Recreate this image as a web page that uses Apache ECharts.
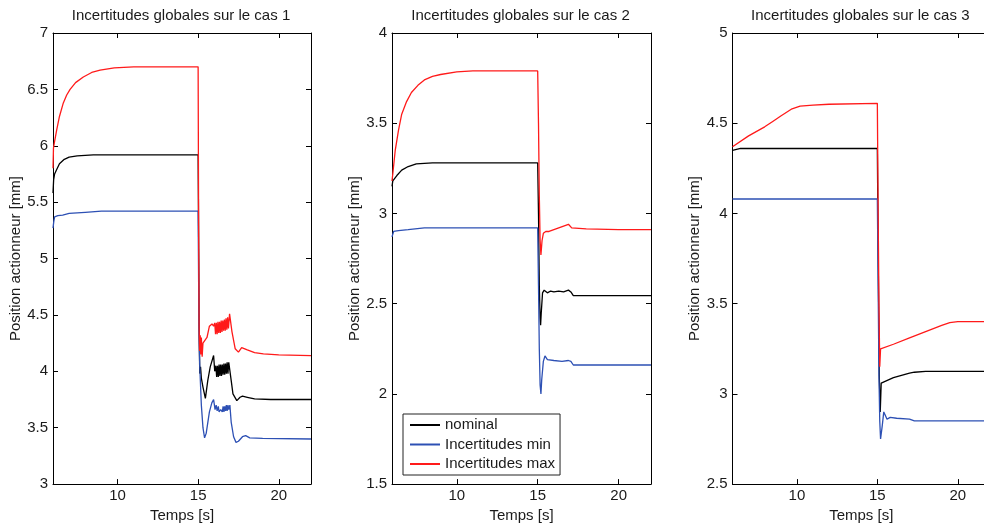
<!DOCTYPE html>
<html>
<head>
<meta charset="utf-8">
<script src="https://cdn.jsdelivr.net/npm/echarts@6/dist/echarts.min.js"></script>
<style>
html,body{margin:0;padding:0;overflow:hidden;background:#fff;}
#chart{width:1000px;height:528px;}
</style>
</head>
<body>
<div id="chart"></div>
<script>
// ---- Data (time [s], position [mm]) ----
const seriesNames = ['nominal', 'Incertitudes min', 'Incertitudes max'];
const titles = ['Incertitudes globales sur le cas 1', 'Incertitudes globales sur le cas 2', 'Incertitudes globales sur le cas 3'];
const xTicks = [10, 15, 20];
const yRanges = [[3, 7], [1.5, 4], [2.5, 5]];

// Case 1
const case1Nominal = [[6,5.58],[6.04,5.70],[6.1,5.75],[6.2,5.78],[6.4,5.84],[6.7,5.88],[7,5.90],[7.5,5.91],[8.5,5.92],[15.0,5.92],[15.03,5.2],[15.06,4.4],[15.1,3.98],[15.15,4.04],[15.2,3.94],[15.3,3.86],[15.45,3.76],[15.6,3.92],[15.75,4.04],[15.85,4.05],[15.96,4.14],[16.03,4.00],[16.1,4.05],[16.15,3.95],[16.2,4.05],[16.25,3.95],[16.3,4.06],[16.35,3.96],[16.4,4.06],[16.45,3.96],[16.5,4.06],[16.55,3.97],[16.6,4.07],[16.65,3.97],[16.7,4.07],[16.75,3.98],[16.8,4.08],[16.85,3.98],[16.9,4.08],[16.95,4.08],[17.05,3.92],[17.16,3.80],[17.4,3.74],[17.6,3.77],[17.75,3.78],[18.05,3.77],[18.5,3.755],[19.5,3.75],[22,3.75]];
const case1Min = [[6,5.27],[6.05,5.33],[6.1,5.37],[6.3,5.38],[6.6,5.385],[7,5.40],[8,5.41],[9,5.42],[15.0,5.42],[15.03,4.8],[15.06,4.3],[15.1,4.05],[15.2,3.7],[15.3,3.5],[15.4,3.41],[15.5,3.45],[15.7,3.64],[15.85,3.72],[15.96,3.75],[16.05,3.66],[16.12,3.70],[16.18,3.65],[16.25,3.69],[16.3,3.64],[16.4,3.66],[16.5,3.64],[16.55,3.69],[16.6,3.64],[16.65,3.69],[16.7,3.65],[16.75,3.70],[16.8,3.65],[16.85,3.70],[16.9,3.66],[16.97,3.70],[17.05,3.55],[17.2,3.42],[17.35,3.37],[17.5,3.38],[17.75,3.42],[17.95,3.43],[18.2,3.41],[19,3.405],[22,3.40]];
const case1Max = [[6,5.80],[6.03,5.98],[6.1,6.04],[6.23,6.14],[6.4,6.26],[6.64,6.38],[6.85,6.45],[7.06,6.50],[7.4,6.56],[7.88,6.61],[8.4,6.65],[8.92,6.67],[9.8,6.69],[11,6.70],[15.0,6.70],[15.03,5.3],[15.06,4.4],[15.09,4.18],[15.13,4.32],[15.16,4.15],[15.2,4.30],[15.25,4.13],[15.3,4.25],[15.4,4.24],[15.55,4.30],[15.7,4.40],[15.86,4.42],[15.96,4.40],[16.03,4.43],[16.08,4.33],[16.13,4.43],[16.18,4.33],[16.23,4.44],[16.28,4.34],[16.33,4.44],[16.38,4.34],[16.43,4.45],[16.48,4.35],[16.53,4.45],[16.58,4.36],[16.63,4.46],[16.68,4.36],[16.73,4.47],[16.78,4.37],[16.83,4.48],[16.88,4.38],[16.95,4.51],[17.1,4.35],[17.3,4.20],[17.5,4.17],[17.7,4.21],[18.05,4.19],[18.5,4.165],[19.05,4.155],[20,4.145],[22,4.14]];

// Case 2
const case2Nominal = [[6,3.15],[6.05,3.18],[6.3,3.21],[6.6,3.24],[7.0,3.26],[7.5,3.275],[8.5,3.28],[15.0,3.28],[15.05,3.0],[15.1,2.6],[15.15,2.42],[15.18,2.38],[15.22,2.45],[15.3,2.56],[15.4,2.575],[15.6,2.56],[15.8,2.57],[16.0,2.565],[16.3,2.57],[16.6,2.565],[16.9,2.575],[17.05,2.565],[17.2,2.545],[18,2.545],[22,2.545]];
const case2Min = [[6,2.87],[6.1,2.90],[6.2,2.89],[6.4,2.905],[7,2.91],[8,2.92],[15.0,2.92],[15.05,2.6],[15.1,2.25],[15.15,2.05],[15.2,2.0],[15.25,2.08],[15.35,2.18],[15.45,2.21],[15.6,2.19],[16,2.185],[16.5,2.18],[16.9,2.185],[17.05,2.18],[17.2,2.16],[18,2.16],[22,2.16]];
const case2Max = [[6,3.18],[6.05,3.22],[6.2,3.35],[6.4,3.46],[6.6,3.55],[6.9,3.62],[7.2,3.67],[7.6,3.71],[8,3.74],[8.5,3.76],[9,3.77],[10,3.785],[11,3.79],[15.0,3.79],[15.05,3.5],[15.1,3.1],[15.15,2.85],[15.2,2.77],[15.27,2.85],[15.35,2.89],[15.5,2.90],[15.7,2.90],[16.0,2.91],[16.3,2.92],[16.6,2.93],[16.9,2.94],[17.0,2.93],[17.1,2.92],[18,2.915],[20,2.91],[22,2.91]];

// Case 3
const case3Nominal = [[6,4.35],[6.5,4.36],[15,4.36],[15.05,3.8],[15.12,3.1],[15.18,2.9],[15.24,3.06],[15.3,3.07],[16,3.09],[17,3.115],[17.3,3.12],[18,3.125],[22,3.125]];
const case3Min = [[6,4.08],[15,4.08],[15.05,3.6],[15.1,3.1],[15.15,2.85],[15.2,2.75],[15.3,2.82],[15.4,2.90],[15.5,2.88],[15.6,2.86],[15.8,2.87],[16.2,2.865],[17,2.86],[17.3,2.85],[22,2.85]];
const case3Max = [[6,4.37],[7,4.43],[8,4.48],[8.5,4.51],[9,4.54],[9.7,4.58],[10.2,4.595],[11,4.60],[12,4.605],[15,4.61],[15.05,4.0],[15.1,3.5],[15.15,3.15],[15.2,3.25],[15.3,3.25],[16,3.275],[17,3.31],[18,3.345],[19,3.38],[19.5,3.395],[20,3.40],[22,3.40]];

const caseData = [
  [case1Nominal, case1Min, case1Max],
  [case2Nominal, case2Min, case2Max],
  [case3Nominal, case3Min, case3Max]
];

// ---- Styling / layout ----
const colors = ['#000000', '#2d50b4', '#ff1a1a'];
const FONT = 'Liberation Sans, Arial, Helvetica, sans-serif';
const FS = 15;
const TXT = '#1a1a1a';
const gridLefts = [53, 392, 732.5];
const gridWidths = [258, 259, 257.5];
const gridTop = 33, gridHeight = 453;

const grids = [], xAxes = [], yAxes = [], series = [], titleArr = [];
for (let i = 0; i < 3; i++) {
  grids.push({left: gridLefts[i], top: gridTop, width: gridWidths[i], height: gridHeight, show: false});
  titleArr.push({
    text: titles[i], left: gridLefts[i] + gridWidths[i] / 2 - 1, top: 8, padding: 0,
    textAlign: 'center',
    textStyle: {fontFamily: FONT, fontSize: FS, fontWeight: 'normal', color: TXT}
  });
  const axLine = {show: true, onZero: false, lineStyle: {color: '#000', width: 1}};
  const tick = {show: true, inside: true, length: 5, lineStyle: {color: '#000', width: 1}, customValues: xTicks};
  xAxes.push({
    gridIndex: i, type: 'value', min: 6, max: 22, position: 'bottom',
    axisLine: axLine, axisTick: tick,
    axisLabel: {show: true, customValues: xTicks, margin: 4, fontFamily: FONT, fontSize: FS, color: TXT},
    splitLine: {show: false},
    name: 'Temps [s]', nameLocation: 'middle', nameGap: 23,
    nameTextStyle: {fontFamily: FONT, fontSize: FS, color: TXT}
  });
  xAxes.push({
    gridIndex: i, type: 'value', min: 6, max: 22, position: 'top',
    axisLine: axLine, axisTick: tick, axisLabel: {show: false}, splitLine: {show: false}
  });
  const ytick = {show: true, inside: true, length: 5, lineStyle: {color: '#000', width: 1}};
  yAxes.push({
    gridIndex: i, type: 'value', min: yRanges[i][0], max: yRanges[i][1], interval: 0.5, position: 'left',
    axisLine: axLine, axisTick: ytick,
    axisLabel: {show: true, margin: 5, fontFamily: FONT, fontSize: FS, color: TXT},
    splitLine: {show: false},
    name: 'Position actionneur [mm]', nameLocation: 'middle', nameGap: 29,
    nameTextStyle: {fontFamily: FONT, fontSize: FS, color: TXT}
  });
  yAxes.push({
    gridIndex: i, type: 'value', min: yRanges[i][0], max: yRanges[i][1], interval: 0.5, position: 'right',
    axisLine: axLine, axisTick: ytick, axisLabel: {show: false}, splitLine: {show: false}
  });
  for (let s = 0; s < 3; s++) {
    series.push({
      type: 'line', name: seriesNames[s], xAxisIndex: 2 * i, yAxisIndex: 2 * i,
      data: caseData[i][s], showSymbol: false, symbol: 'none',
      lineStyle: {color: colors[s], width: 1.3}, itemStyle: {color: colors[s]},
      animation: false, z: 2 + s
    });
  }
}

const option = {
  backgroundColor: '#fff',
  animation: false,
  title: titleArr,
  grid: grids,
  xAxis: xAxes,
  yAxis: yAxes,
  legend: {
    data: seriesNames, orient: 'vertical', left: 403, top: 414,
    backgroundColor: '#fff', borderColor: '#222', borderWidth: 1,
    padding: [3, 5, 3, 7], itemGap: 3.5, itemWidth: 30, itemHeight: 2, icon: 'rect',
    selectedMode: false,
    textStyle: {fontFamily: FONT, fontSize: FS, color: TXT, lineHeight: 16}
  },
  series: series
};

const chart = echarts.init(document.getElementById('chart'), null, {renderer: 'canvas'});
chart.setOption(option);
</script>
</body>
</html>
